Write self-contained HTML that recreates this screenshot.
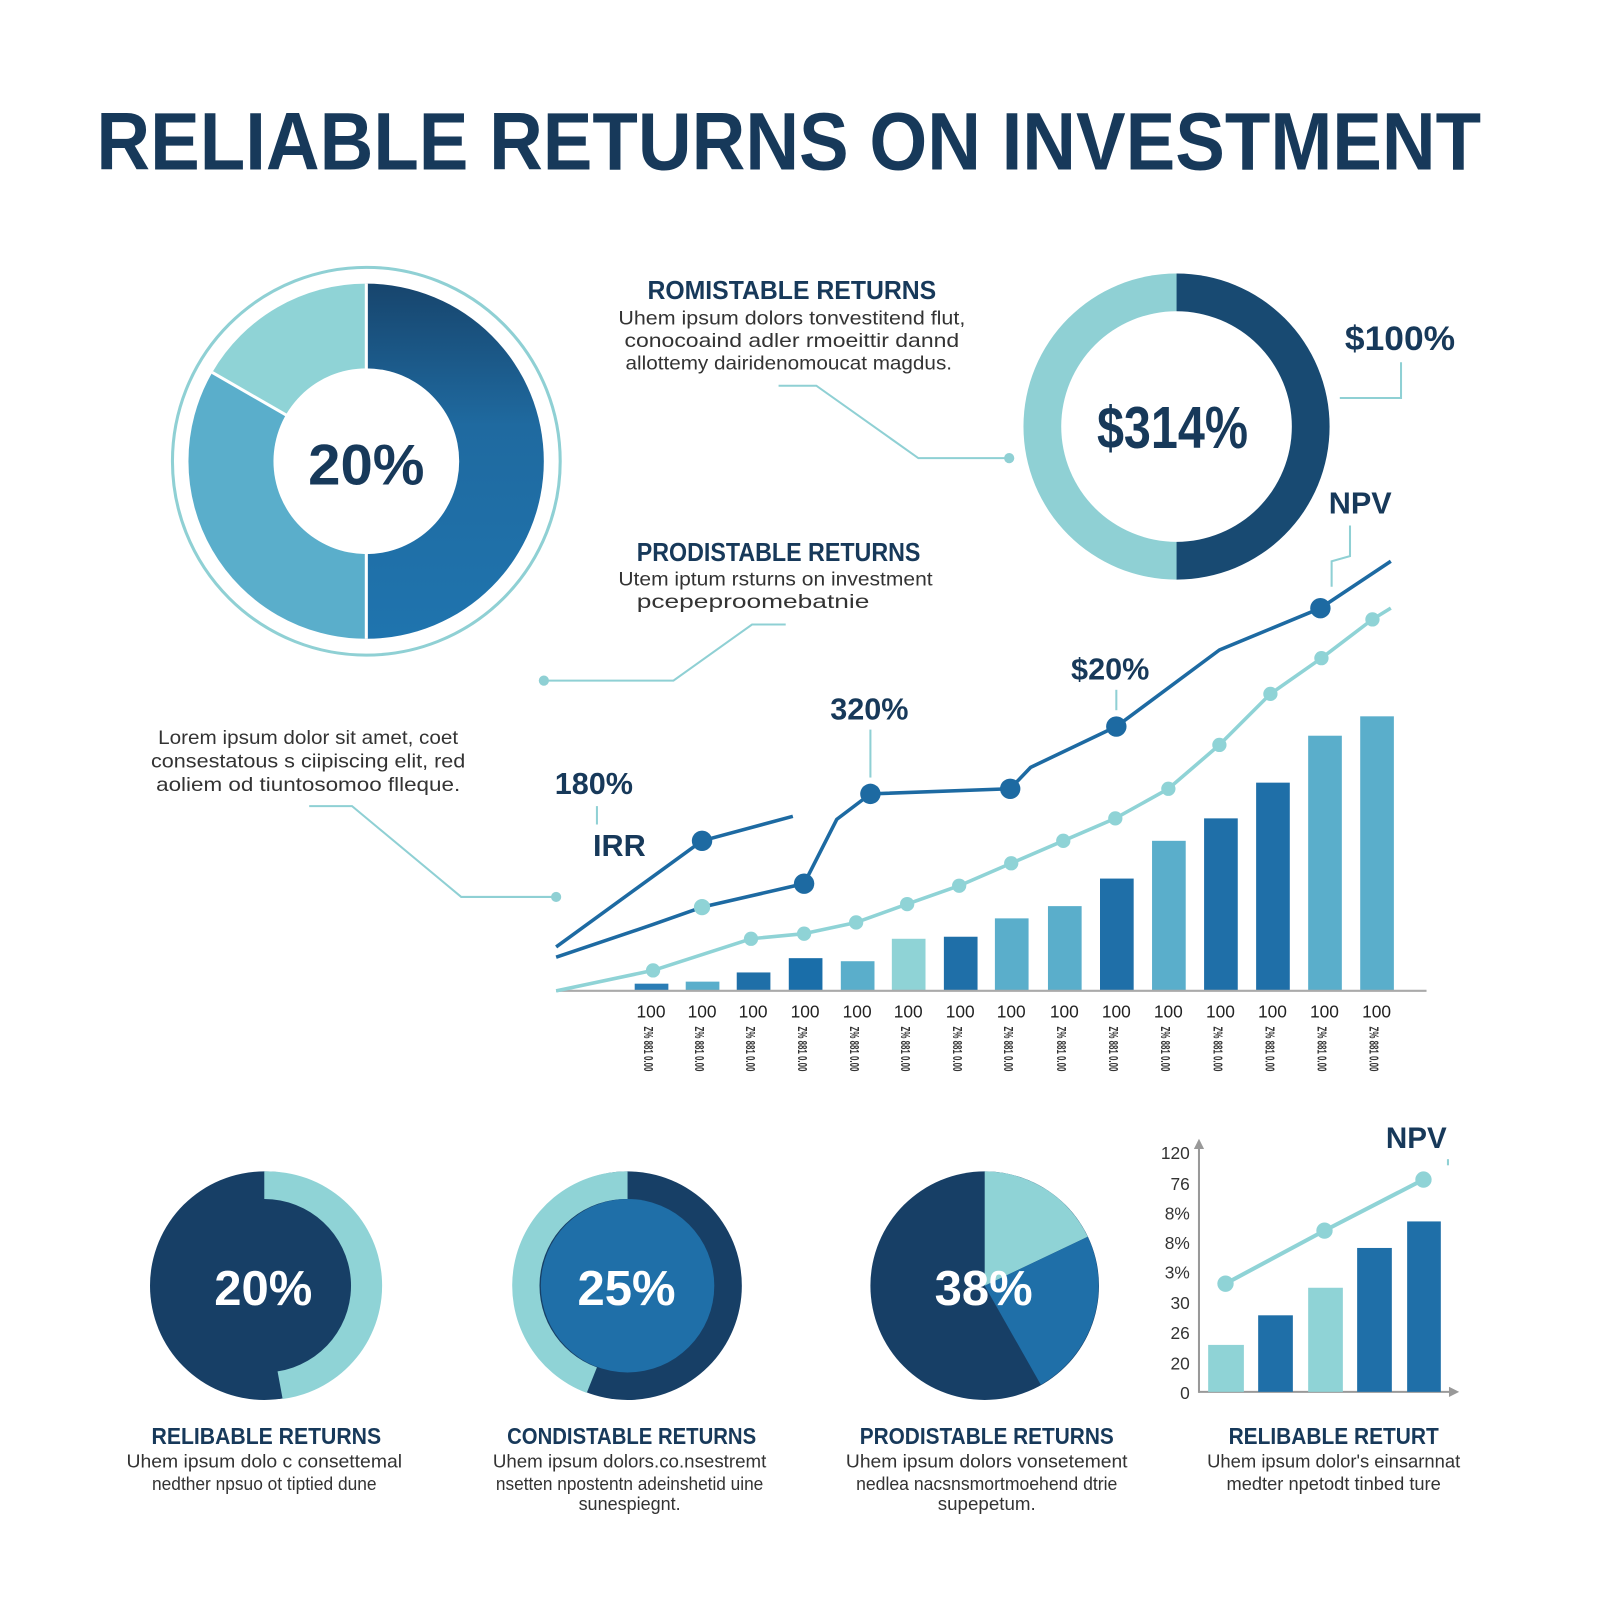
<!DOCTYPE html>
<html><head><meta charset="utf-8"><style>html,body{margin:0;padding:0;background:#fff}svg{display:block}</style></head><body>
<svg width="1600" height="1600" viewBox="0 0 1568 1568" xmlns="http://www.w3.org/2000/svg" font-family="Liberation Sans, sans-serif">
<defs><linearGradient id="g1" x1="0" y1="0" x2="0" y2="1"><stop offset="0" stop-color="#17456d"/><stop offset="0.4" stop-color="#1f6aa0"/><stop offset="1" stop-color="#1f74ae"/></linearGradient></defs>
<rect width="1568" height="1568" fill="#fff"/>
<text x="773" y="166" text-anchor="middle" font-size="80" font-weight="bold" fill="#17395a" textLength="1357" lengthAdjust="spacingAndGlyphs">RELIABLE RETURNS ON INVESTMENT</text>

<circle cx="359" cy="452" r="190" fill="none" stroke="#8fd0d4" stroke-width="3"/>
<path d="M359 278 A174 174 0 0 1 359 626 Z" fill="url(#g1)"/>
<path d="M359 626 A174 174 0 0 1 208 365 L359 452 Z" fill="#5aaecb"/>
<path d="M208 365 A174 174 0 0 1 359 278 L359 452 Z" fill="#8fd3d6"/>
<line x1="359" y1="278" x2="359" y2="626" stroke="#fff" stroke-width="3"/>
<line x1="208" y1="365" x2="359" y2="452" stroke="#fff" stroke-width="3"/>
<circle cx="359" cy="452" r="91" fill="#fff"/>
<text x="359" y="475" text-anchor="middle" font-size="56" font-weight="bold" fill="#17395a" textLength="114" lengthAdjust="spacingAndGlyphs">20%</text>

<path d="M1153 268 A150 150 0 0 1 1153 568 Z" fill="#184a72"/>
<path d="M1153 568 A150 150 0 0 1 1153 268 Z" fill="#8fd0d4"/>
<circle cx="1153" cy="418" r="113" fill="#fff"/>
<text x="1149" y="439" text-anchor="middle" font-size="58" font-weight="bold" fill="#17395a" textLength="148" lengthAdjust="spacingAndGlyphs">$314%</text>
<text x="1372" y="343" text-anchor="middle" font-size="34" font-weight="bold" fill="#17395a" textLength="108" lengthAdjust="spacingAndGlyphs">$100%</text>
<polyline points="1373,355 1373,390 1313,390" fill="none" stroke="#8fd0d4" stroke-width="2"/>
<text x="1333" y="503" text-anchor="middle" font-size="30" font-weight="bold" fill="#17395a">NPV</text>
<polyline points="1323,515 1323,545 1305,550 1305,575" fill="none" stroke="#8fd0d4" stroke-width="2"/>

<g text-anchor="middle" fill="#333" font-size="19">
<text x="776" y="293" font-size="25" font-weight="bold" fill="#17395a" textLength="283" lengthAdjust="spacingAndGlyphs">ROMISTABLE RETURNS</text>
<text x="776" y="318" textLength="340" lengthAdjust="spacingAndGlyphs">Uhem ipsum dolors tonvestitend flut,</text>
<text x="776" y="340" textLength="328" lengthAdjust="spacingAndGlyphs">conocoaind adler rmoeittir dannd</text>
<text x="773" y="362" textLength="320" lengthAdjust="spacingAndGlyphs">allottemy dairidenomoucat magdus.</text>
<text x="763" y="550" font-size="25" font-weight="bold" fill="#17395a" textLength="278" lengthAdjust="spacingAndGlyphs">PRODISTABLE RETURNS</text>
<text x="760" y="574" textLength="308" lengthAdjust="spacingAndGlyphs">Utem iptum rsturns on investment</text>
<text x="738" y="596" textLength="228" lengthAdjust="spacingAndGlyphs">pcepeproomebatnie</text>
<text x="302" y="729" textLength="294" lengthAdjust="spacingAndGlyphs">Lorem ipsum dolor sit amet, coet</text>
<text x="302" y="752" textLength="308" lengthAdjust="spacingAndGlyphs">consestatous s ciipiscing elit, red</text>
<text x="302" y="775" textLength="298" lengthAdjust="spacingAndGlyphs">aoliem od tiuntosomoo flleque.</text>
</g>
<g fill="none" stroke="#8fd0d4" stroke-width="2">
<polyline points="763,378 800,378 900,449 988,449"/>
<polyline points="533,667 660,667 737,612 770,612"/>
<polyline points="303,790 345,790 452,879 545,879"/>
</g>
<g fill="#8fd0d4"><circle cx="989" cy="449" r="5"/><circle cx="533" cy="667" r="5"/><circle cx="545" cy="879" r="5"/></g>

<g>
<rect x="622" y="964" width="33" height="7" fill="#2a7db5"/>
<rect x="672" y="962" width="33" height="9" fill="#5aaecb"/>
<rect x="722" y="953" width="33" height="18" fill="#1f6fa8"/>
<rect x="773" y="939" width="33" height="32" fill="#1a6ea9"/>
<rect x="824" y="942" width="33" height="29" fill="#5aaecb"/>
<rect x="874" y="920" width="33" height="51" fill="#8fd3d6"/>
<rect x="925" y="918" width="33" height="53" fill="#1f6fa8"/>
<rect x="975" y="900" width="33" height="71" fill="#5aaecb"/>
<rect x="1027" y="888" width="33" height="83" fill="#5aaecb"/>
<rect x="1078" y="861" width="33" height="110" fill="#1f6fa8"/>
<rect x="1129" y="824" width="33" height="147" fill="#5aaecb"/>
<rect x="1180" y="802" width="33" height="169" fill="#1f6fa8"/>
<rect x="1231" y="767" width="33" height="204" fill="#1f6fa8"/>
<rect x="1282" y="721" width="33" height="250" fill="#5aaecb"/>
<rect x="1333" y="702" width="33" height="269" fill="#5aaecb"/>
</g>
<line x1="545" y1="971" x2="1398" y2="971" stroke="#aaa" stroke-width="2"/>
<g fill="none" stroke-width="3.5" stroke-linejoin="round">
<polyline stroke="#8fd3d6" points="545,971 640,951 736,920 788,915 839,904 889,886 940,868 991,846 1042,824 1093,802 1145,773 1195,730 1245,680 1295,645 1345,607 1363,596"/>
<polyline stroke="#1d6aa2" points="545,938 640,906 688,889 788,866 820,803 853,778 990,773 1010,752 1094,712 1195,637 1294,596 1363,550"/>
<polyline stroke="#1d6aa2" points="545,928 688,824 777,800"/>
</g>
<g fill="#8fd3d6">
<circle cx="640" cy="951" r="7"/><circle cx="736" cy="920" r="7"/><circle cx="788" cy="915" r="7"/><circle cx="839" cy="904" r="7"/><circle cx="889" cy="886" r="7"/><circle cx="940" cy="868" r="7"/><circle cx="991" cy="846" r="7"/><circle cx="1042" cy="824" r="7"/><circle cx="1093" cy="802" r="7"/><circle cx="1145" cy="773" r="7"/><circle cx="1195" cy="730" r="7"/><circle cx="1245" cy="680" r="7"/><circle cx="1295" cy="645" r="7"/><circle cx="1345" cy="607" r="7"/><circle cx="688" cy="889" r="8"/>
</g>
<g fill="#1d6aa2"><circle cx="688" cy="824" r="10"/><circle cx="788" cy="866" r="10"/><circle cx="853" cy="778" r="10"/><circle cx="990" cy="773" r="10"/><circle cx="1094" cy="712" r="10"/><circle cx="1294" cy="596" r="10"/></g>
<g font-weight="bold" fill="#17395a" text-anchor="middle" font-size="30">
<text x="582" y="778">180%</text><text x="607" y="839">IRR</text><text x="852" y="705">320%</text><text x="1088" y="666">$20%</text>
</g>
<g stroke="#8fd0d4" stroke-width="2"><line x1="585" y1="790" x2="585" y2="808"/><line x1="853" y1="715" x2="853" y2="762"/><line x1="1094" y1="676" x2="1094" y2="696"/></g>
<g font-size="17" fill="#222" text-anchor="middle">
<text x="638" y="997">100</text><text x="688" y="997">100</text><text x="738" y="997">100</text><text x="789" y="997">100</text><text x="840" y="997">100</text><text x="890" y="997">100</text><text x="941" y="997">100</text><text x="991" y="997">100</text><text x="1043" y="997">100</text><text x="1094" y="997">100</text><text x="1145" y="997">100</text><text x="1196" y="997">100</text><text x="1247" y="997">100</text><text x="1298" y="997">100</text><text x="1349" y="997">100</text>
</g>
<g font-size="13" fill="#333" font-weight="bold">
<text transform="translate(631,1006) rotate(90)" textLength="44" lengthAdjust="spacingAndGlyphs">Z% 881 0.00</text><text transform="translate(681,1006) rotate(90)" textLength="44" lengthAdjust="spacingAndGlyphs">Z% 881 0.00</text><text transform="translate(731,1006) rotate(90)" textLength="44" lengthAdjust="spacingAndGlyphs">Z% 881 0.00</text><text transform="translate(782,1006) rotate(90)" textLength="44" lengthAdjust="spacingAndGlyphs">Z% 881 0.00</text><text transform="translate(833,1006) rotate(90)" textLength="44" lengthAdjust="spacingAndGlyphs">Z% 881 0.00</text><text transform="translate(883,1006) rotate(90)" textLength="44" lengthAdjust="spacingAndGlyphs">Z% 881 0.00</text><text transform="translate(934,1006) rotate(90)" textLength="44" lengthAdjust="spacingAndGlyphs">Z% 881 0.00</text><text transform="translate(984,1006) rotate(90)" textLength="44" lengthAdjust="spacingAndGlyphs">Z% 881 0.00</text><text transform="translate(1036,1006) rotate(90)" textLength="44" lengthAdjust="spacingAndGlyphs">Z% 881 0.00</text><text transform="translate(1087,1006) rotate(90)" textLength="44" lengthAdjust="spacingAndGlyphs">Z% 881 0.00</text><text transform="translate(1138,1006) rotate(90)" textLength="44" lengthAdjust="spacingAndGlyphs">Z% 881 0.00</text><text transform="translate(1189,1006) rotate(90)" textLength="44" lengthAdjust="spacingAndGlyphs">Z% 881 0.00</text><text transform="translate(1240,1006) rotate(90)" textLength="44" lengthAdjust="spacingAndGlyphs">Z% 881 0.00</text><text transform="translate(1291,1006) rotate(90)" textLength="44" lengthAdjust="spacingAndGlyphs">Z% 881 0.00</text><text transform="translate(1342,1006) rotate(90)" textLength="44" lengthAdjust="spacingAndGlyphs">Z% 881 0.00</text>
</g>

<circle cx="259" cy="1260" r="112" fill="#173f66"/>
<path d="M259 1148 A112 112 0 0 1 277 1371 L272 1344 A85 85 0 0 0 259 1175 Z" fill="#8fd3d6"/>
<text x="258" y="1279" text-anchor="middle" font-size="48" font-weight="bold" fill="#fff">20%</text>

<circle cx="615" cy="1260" r="112" fill="#173f66"/>
<path d="M615 1148 A112 112 0 0 0 575 1365 L585 1340 A85 85 0 0 1 615 1175 Z" fill="#8fd3d6"/>
<circle cx="615" cy="1260" r="85" fill="#1f6fa8"/>
<text x="614" y="1279" text-anchor="middle" font-size="48" font-weight="bold" fill="#fff">25%</text>

<circle cx="965" cy="1260" r="112" fill="#173f66"/>
<path d="M965 1260 L965 1148 A112 112 0 0 1 1066 1212 Z" fill="#8fd3d6"/>
<path d="M965 1260 L1066 1212 A112 112 0 0 1 1020 1357 Z" fill="#1f6fa8"/>
<text x="964" y="1279" text-anchor="middle" font-size="48" font-weight="bold" fill="#fff">38%</text>

<g fill="none" stroke="#999" stroke-width="2"><line x1="1175" y1="1122" x2="1175" y2="1365"/><line x1="1175" y1="1364" x2="1424" y2="1364"/></g>
<path d="M1170 1126 L1175 1116 L1180 1126 Z M1420 1359 L1430 1364 L1420 1369 Z" fill="#999"/>
<g font-size="17" fill="#333" text-anchor="end">
<text x="1166" y="1136">120</text><text x="1166" y="1166">76</text><text x="1166" y="1195">8%</text><text x="1166" y="1224">8%</text><text x="1166" y="1253">3%</text><text x="1166" y="1283">30</text><text x="1166" y="1312">26</text><text x="1166" y="1342">20</text><text x="1166" y="1371">0</text>
</g>
<rect x="1184" y="1318" width="35" height="46" fill="#8fd3d6"/>
<rect x="1233" y="1289" width="34" height="75" fill="#1f6fa8"/>
<rect x="1282" y="1262" width="34" height="102" fill="#8fd3d6"/>
<rect x="1330" y="1223" width="34" height="141" fill="#1f6fa8"/>
<rect x="1379" y="1197" width="33" height="167" fill="#1f6fa8"/>
<polyline points="1201,1258 1298,1206 1395,1156" fill="none" stroke="#8fd3d6" stroke-width="4"/>
<g fill="#8fd3d6"><circle cx="1201" cy="1258" r="8"/><circle cx="1298" cy="1206" r="8"/><circle cx="1395" cy="1156" r="8"/></g>
<text x="1388" y="1125" text-anchor="middle" font-size="29" font-weight="bold" fill="#17395a">NPV</text>
<line x1="1419" y1="1136" x2="1419" y2="1142" stroke="#8fd0d4" stroke-width="2"/>

<g text-anchor="middle" fill="#333" font-size="18">
<g font-size="23" font-weight="bold" fill="#17395a">
<text x="261" y="1415" textLength="225" lengthAdjust="spacingAndGlyphs">RELIBABLE RETURNS</text><text x="619" y="1415" textLength="244" lengthAdjust="spacingAndGlyphs">CONDISTABLE RETURNS</text><text x="967" y="1415" textLength="249" lengthAdjust="spacingAndGlyphs">PRODISTABLE RETURNS</text><text x="1307" y="1415" textLength="206" lengthAdjust="spacingAndGlyphs">RELIBABLE RETURT</text>
</g>
<text x="259" y="1438" textLength="270" lengthAdjust="spacingAndGlyphs">Uhem ipsum dolo c consettemal</text><text x="259" y="1460" textLength="220" lengthAdjust="spacingAndGlyphs">nedther npsuo ot tiptied dune</text>
<text x="617" y="1438" textLength="268" lengthAdjust="spacingAndGlyphs">Uhem ipsum dolors.co.nsestremt</text><text x="617" y="1460" textLength="262" lengthAdjust="spacingAndGlyphs">nsetten npostentn adeinshetid uine</text><text x="617" y="1480" textLength="100" lengthAdjust="spacingAndGlyphs">sunespiegnt.</text>
<text x="967" y="1438" textLength="276" lengthAdjust="spacingAndGlyphs">Uhem ipsum dolors vonsetement</text><text x="967" y="1460" textLength="256" lengthAdjust="spacingAndGlyphs">nedlea nacsnsmortmoehend dtrie</text><text x="967" y="1480" textLength="96" lengthAdjust="spacingAndGlyphs">supepetum.</text>
<text x="1307" y="1438" textLength="248" lengthAdjust="spacingAndGlyphs">Uhem ipsum dolor's einsarnnat</text><text x="1307" y="1460" textLength="210" lengthAdjust="spacingAndGlyphs">medter npetodt tinbed ture</text>
</g>
</svg>
</body></html>
